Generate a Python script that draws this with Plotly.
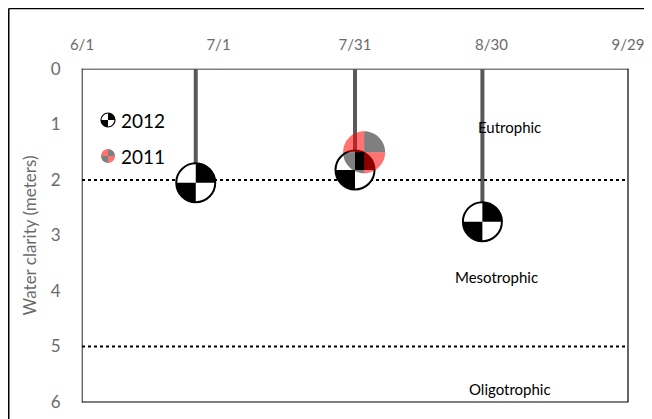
import plotly.graph_objects as go

# ---- data ----
dates_2012 = ["2012-06-26", "2012-07-31", "2012-08-28"]
clarity_2012 = [2.05, 1.82, 2.75]
dates_2011 = ["2012-08-02"]          # 2011 reading plotted on the same seasonal axis
clarity_2011 = [1.5]
x_tickvals = ["2012-06-01", "2012-07-01", "2012-07-31", "2012-08-30", "2012-09-29"]
x_ticktext = ["6/1", "7/1", "7/31", "8/30", "9/29"]
y_tickvals = [0, 1, 2, 3, 4, 5, 6]
thresholds = [2, 5]
zone_labels = ["Eutrophic", "Mesotrophic", "Oligotrophic"]
zone_label_x = ["2012-09-03", "2012-08-31", "2012-09-03"]
zone_label_y = [1.04, 3.74, 5.76]

FONT = "Lato"
# page has an 8px body margin, so the figure is sized to fill the rest of the window
W, H = 644, 411
ML, MR, MT, MB = 74, 24, 61, 17
PW, PH = W - ML - MR, H - MT - MB

K = 0.5523


def quad(r, q):
    # quarter disc, q: 'tr','tl','bl','br' (pixel units, y up)
    sx = 1 if q in ("tr", "br") else -1
    sy = 1 if q in ("tr", "tl") else -1
    return (f"M0,0 L{sx*r},0 C{sx*r},{sy*K*r} {sx*K*r},{sy*r} 0,{sy*r} Z")


def circle(r):
    return (f"M{r},0 C{r},{K*r} {K*r},{r} 0,{r} "
            f"C{-K*r},{r} {-r},{K*r} {-r},0 "
            f"C{-r},{-K*r} {-K*r},{-r} 0,{-r} "
            f"C{K*r},{-r} {r},{-K*r} {r},0 Z")


def glyph(xa, ya, xref, yref, r, style):
    out = []
    base = dict(xref=xref, yref=yref, xsizemode="pixel", ysizemode="pixel",
                xanchor=xa, yanchor=ya, type="path", layer="above")
    if style == "2012":
        out.append(dict(base, path=circle(r), fillcolor="white", line=dict(width=0)))
        for q in ("tr", "bl"):
            out.append(dict(base, path=quad(r, q), fillcolor="black", line=dict(width=0)))
        out.append(dict(base, path=circle(r), fillcolor="rgba(0,0,0,0)",
                        line=dict(color="black", width=2 if r > 10 else 1.2)))
    else:
        for q in ("tl", "br"):
            out.append(dict(base, path=quad(r, q), fillcolor="rgba(255,0,0,0.55)", line=dict(width=0)))
        for q in ("tr", "bl"):
            out.append(dict(base, path=quad(r, q), fillcolor="rgba(0,0,0,0.5)", line=dict(width=0)))
    return out


fig = go.Figure()

# stems (drop lines from the surface to each 2012 reading)
fig.add_trace(go.Scatter(
    x=dates_2012, y=clarity_2012, mode="markers", name="2012",
    marker=dict(size=1, color="rgba(0,0,0,0)"),
    error_y=dict(type="data", symmetric=False, array=[0] * len(clarity_2012),
                 arrayminus=clarity_2012, color="#595959", thickness=4, width=0),
    showlegend=False))
fig.add_trace(go.Scatter(
    x=dates_2011, y=clarity_2011, mode="markers", name="2011",
    marker=dict(size=1, color="rgba(0,0,0,0)"), showlegend=False))

shapes = []
# plot area border (dark)
shapes.append(dict(type="rect", xref="paper", yref="paper", x0=0, x1=1, y0=0, y1=1,
                   line=dict(color="black", width=1.2), layer="below"))
# outer chart frame (left and top visible)
fx = (0.75 - ML) / PW
fy = (H - MB - 0.5) / PH
shapes.append(dict(type="line", xref="paper", yref="paper",
                   x0=fx, x1=fx, y0=-0.2, y1=fy,
                   line=dict(color="black", width=1.5), layer="below"))
shapes.append(dict(type="line", xref="paper", yref="paper",
                   x0=fx, x1=1.2, y0=fy, y1=fy,
                   line=dict(color="black", width=1.5), layer="below"))
# thresholds
for t in thresholds:
    shapes.append(dict(type="line", xref="paper", yref="y", x0=0, x1=1, y0=t, y1=t,
                       line=dict(color="black", width=2, dash="dot"), layer="above"))
# markers
for xv, yv in zip(dates_2012, clarity_2012):
    shapes += glyph(xv, yv, "x", "y", 19.5, "2012")
for xv, yv in zip(dates_2011, clarity_2011):
    shapes += glyph(xv, yv, "x", "y", 21, "2011")
# legend icons
leg_x = (100 - ML) / PW
leg_y12 = (H - MB - 112) / PH
leg_y11 = (H - MB - 148) / PH
shapes += glyph(leg_x, leg_y12, "paper", "paper", 7, "2012")
shapes += glyph(leg_x, leg_y11, "paper", "paper", 7, "2011")

annotations = []
for txt, xv, yv in zip(zone_labels, zone_label_x, zone_label_y):
    annotations.append(dict(x=xv, y=yv, xref="x", yref="y", text=txt, showarrow=False,
                            font=dict(family=FONT, size=15, color="black")))
for txt, yy in (("2012", leg_y12), ("2011", leg_y11)):
    annotations.append(dict(x=(111 - ML) / PW, y=yy, xref="paper", yref="paper", text=txt,
                            showarrow=False, xanchor="left", yanchor="middle",
                            font=dict(family=FONT, size=19, color="black")))

fig.update_layout(
    width=W, height=H, margin=dict(l=ML, r=MR, t=MT, b=MB, autoexpand=False),
    paper_bgcolor="white", plot_bgcolor="white",
    showlegend=False, shapes=shapes, annotations=annotations,
    xaxis=dict(type="date", side="top", range=[x_tickvals[0], x_tickvals[-1]],
               tickvals=x_tickvals, ticktext=x_ticktext, showgrid=False, automargin=False,
               showline=True, linecolor="#bfbfbf", linewidth=1, ticks="",
               tickfont=dict(family=FONT, size=15, color="#6b6b6b"), ticklabelstandoff=12,
               zeroline=False),
    yaxis=dict(range=[6, 0], tickvals=y_tickvals, showgrid=False, zeroline=False,
               automargin=False,
               showline=True, linecolor="#bfbfbf", linewidth=1, ticks="",
               tickfont=dict(family=FONT, size=17, color="#6b6b6b"), ticklabelstandoff=17,
               title=dict(text="Water clarity (meters)", standoff=9,
                          font=dict(family=FONT, size=17, color="#6b6b6b"))),
)

fig.write_html("out.html")
